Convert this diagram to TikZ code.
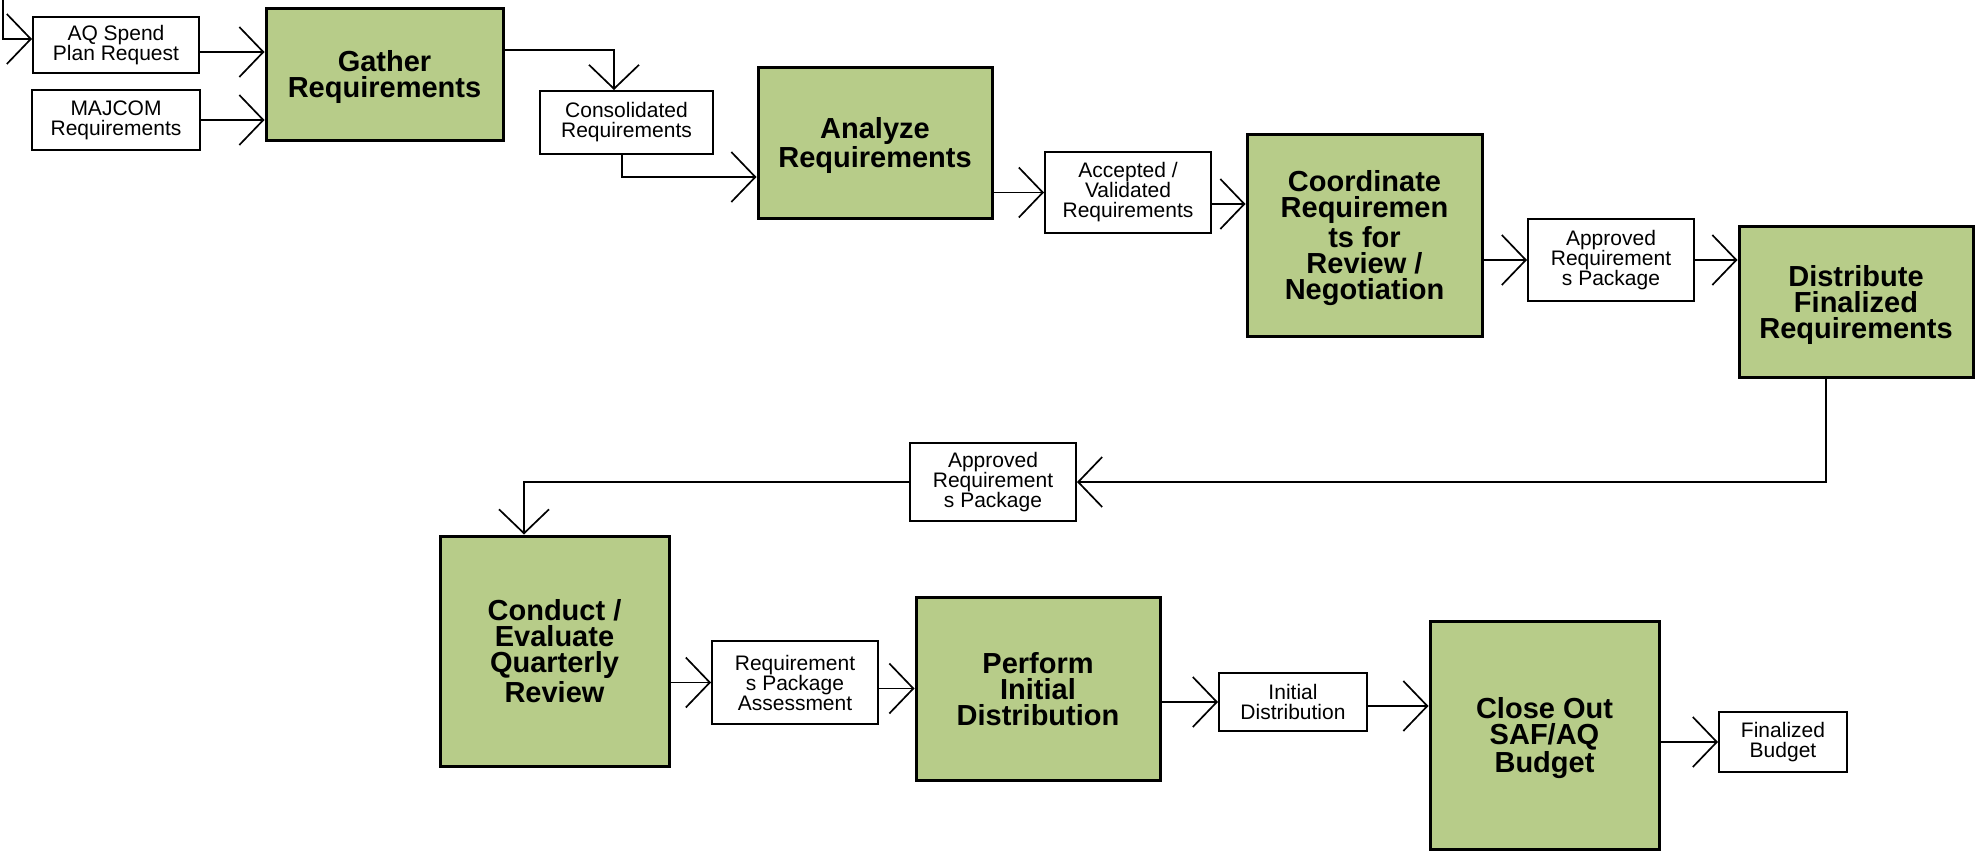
\documentclass[tikz,border=0pt]{standalone}
\usepackage{fontspec}
\setmainfont{Liberation Sans}
\usetikzlibrary{arrows.meta}
\definecolor{procgreen}{RGB}{183,204,137}

\begin{document}
\begin{tikzpicture}[
  x=0.5pt, y=-0.5pt,
  >={Straight Barb[length=12pt,width=25pt]},
  process/.style={rectangle, draw, line width=1.5pt, fill=procgreen, inner sep=0pt, text depth=0pt, align=center, font=\fontsize{14.5pt}{13pt}\selectfont\bfseries},
  artifact/.style={rectangle, draw, line width=1pt, fill=white, inner sep=0pt, align=center, font=\fontsize{10.5pt}{10pt}\selectfont},
  arrow/.style={->, line width=0.85pt}
]
\useasboundingbox (0,0) rectangle (1978,851);

% Inputs
\node[artifact, minimum width=83pt, minimum height=28pt] (spend) at (116,45) {AQ Spend\\Plan Request};
\node[artifact, minimum width=84pt, minimum height=30pt] (majcom) at (116,120) {MAJCOM\\Requirements};

% Top row
\node[process, minimum width=118.5pt, minimum height=66pt] (gather) at (384.5,74) {Gather\\Requirements};
\node[artifact, minimum width=86.5pt, minimum height=31.5pt] (consol) at (626.5,122.5) {Consolidated\\Requirements};
\node[process, minimum width=117pt, minimum height=75.5pt] (analyze) at (875,142.5) {Analyze\\Requirements};
\node[artifact, minimum width=83pt, minimum height=40.5pt] (accepted) at (1128,192.5) {Accepted /\\Validated\\Requirements};
\node[process, minimum width=117.5pt, minimum height=101pt] (coord) at (1364.5,235) {Coordinate\\Requiremen\\ts for\\Review /\\Negotiation};
\node[artifact, minimum width=83pt, minimum height=41pt] (approvedA) at (1611,260) {Approved\\Requirement\\s Package};
\node[process, minimum width=117pt, minimum height=75.5pt] (distribute) at (1856,301.5) {Distribute\\Finalized\\Requirements};

% Bottom row
\node[artifact, minimum width=83pt, minimum height=39pt] (approvedB) at (993,482) {Approved\\Requirement\\s Package};
\node[process, minimum width=114.5pt, minimum height=115pt] (conduct) at (554.5,651) {Conduct /\\Evaluate\\Quarterly\\Review};
\node[artifact, minimum width=83pt, minimum height=41.5pt] (assess) at (795,682.5) {Requirement\\s Package\\Assessment};
\node[process, minimum width=122pt, minimum height=91.5pt] (perform) at (1038,688.5) {Perform\\Initial\\Distribution};
\node[artifact, minimum width=74pt, minimum height=29pt] (initial) at (1293,702) {Initial\\Distribution};
\node[process, minimum width=114.5pt, minimum height=114pt] (closeout) at (1544.5,735) {Close Out\\SAF/AQ\\Budget};
\node[artifact, minimum width=64pt, minimum height=30pt] (finalized) at (1783,742) {Finalized\\Budget};

% Arrows
\coordinate (start) at (3,0);
\draw[arrow] (start) |- ([yshift=3pt]spend.west);
\draw[arrow] ([yshift=-3.5pt]spend.east) -- ([yshift=-3.5pt]spend.east -| gather.west);
\draw[arrow] (majcom.east) -- (majcom.east -| gather.west);
\draw[arrow] ([yshift=12pt]gather.east) -| ([xshift=-6.25pt]consol.north);
\draw[arrow] ([xshift=-2.25pt]consol.south) |- ([yshift=-17.25pt]analyze.west);
\draw[arrow] (analyze.east |- accepted.west) -- (accepted.west);
\draw[arrow] ([yshift=-5.75pt]accepted.east) -- ([yshift=-5.75pt]accepted.east -| coord.west);
\draw[arrow] (coord.east |- approvedA.west) -- (approvedA.west);
\draw[arrow] (approvedA.east) -- (approvedA.east -| distribute.west);
\draw[arrow] ([xshift=-15pt]distribute.south) |- (approvedB.east);
\draw[arrow] (approvedB.west) -| ([xshift=-15.25pt]conduct.north);
\draw[arrow] (conduct.east |- assess.west) -- (assess.west);
\draw[arrow] (perform.west -| assess.east) -- (perform.west);
\draw[arrow] (perform.east |- initial.west) -- (initial.west);
\draw[arrow] ([yshift=-2pt]initial.east) -- ([yshift=-2pt]initial.east -| closeout.west);
\draw[arrow] (closeout.east |- finalized.west) -- (finalized.west);

\end{tikzpicture}
\end{document}
